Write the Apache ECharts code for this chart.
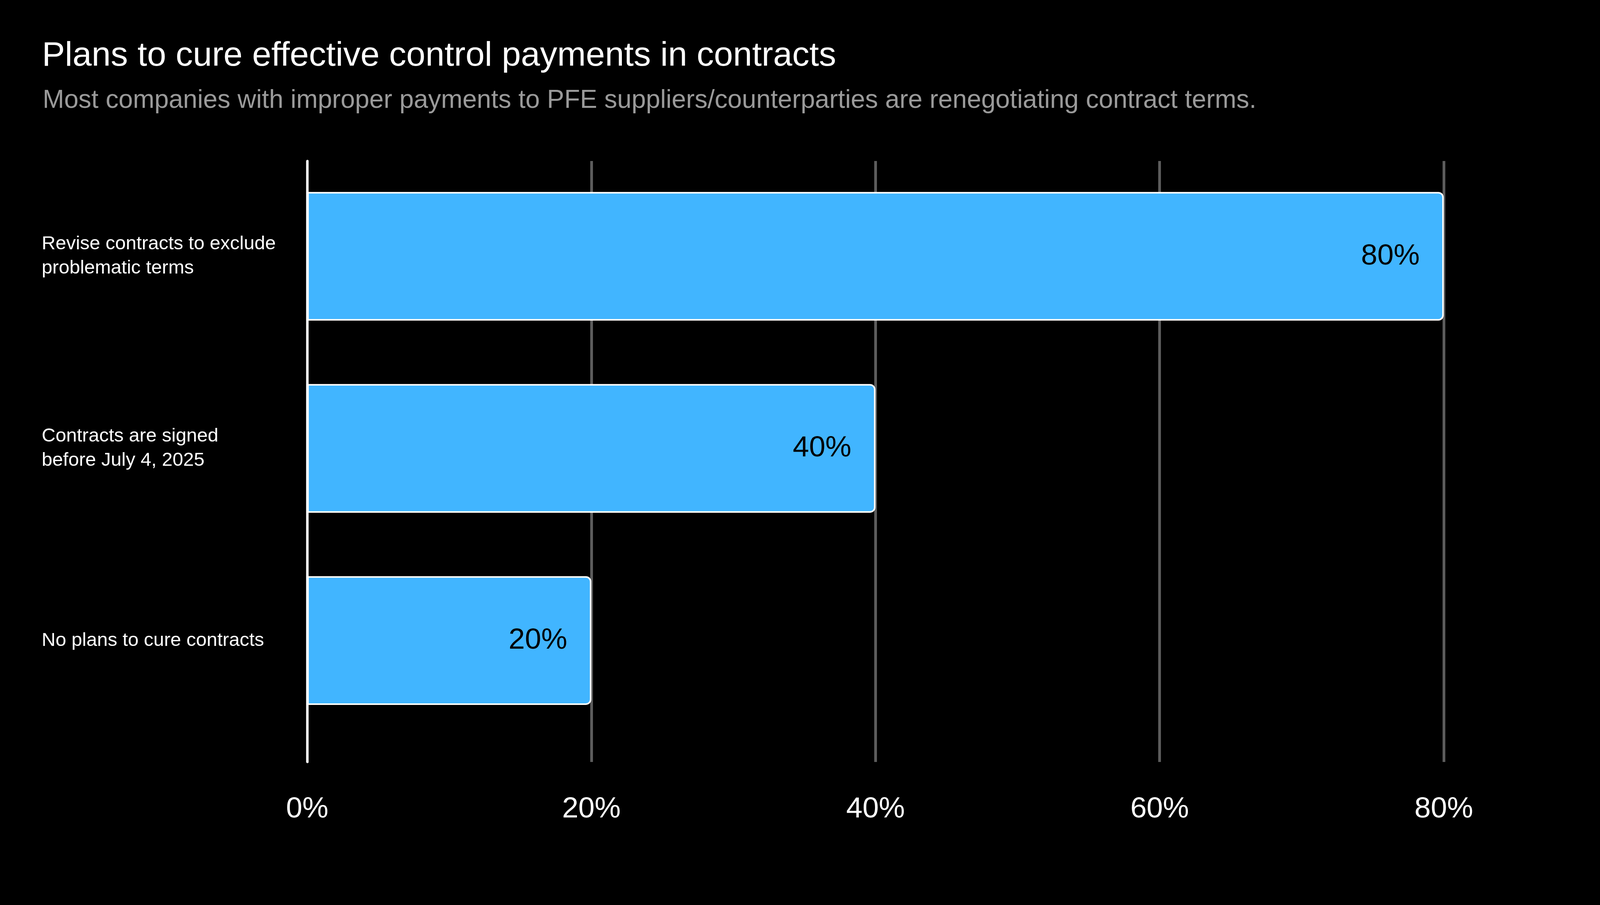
<!DOCTYPE html>
<html>
<head>
<meta charset="utf-8">
<script src="https://cdn.jsdelivr.net/npm/echarts@6/dist/echarts.min.js"></script>
<style>
	html, body {margin: 0; padding: 0; background: #000; overflow: hidden;}
	#chart {width: 100vw; height: 100vh;}
</style>
</head>
<body>
<div id="chart"></div>
<script>
const categories = [
	'Revise contracts to exclude\nproblematic terms',
	'Contracts are signed\nbefore July 4, 2025',
	'No plans to cure contracts',
];
const shares = [80, 40, 20];
const tickValues = [0, 20, 40, 60, 80];

const font = 'Liberation Sans';
const node = document.getElementById('chart');
const chart = echarts.init(node);
// layout was measured on a 4640px wide picture, keep the same proportions
const sx = node.clientWidth / 4640;

chart.setOption({
	backgroundColor: '#000',
	animation: false,
	textStyle: {fontFamily: font},
	title: [
		{
			text: 'Plans to cure effective control payments in contracts',
			left: 116 * sx,
			top: 95,
			textStyle: {color: '#fff', fontSize: 88, fontWeight: 'normal', fontFamily: font},
		},
		{
			text: 'Most companies with improper payments to PFE suppliers/counterparties are renegotiating contract terms.',
			left: 118 * sx,
			top: 220,
			textStyle: {color: '#9a9a9a', fontSize: 66, fontWeight: 'normal', fontFamily: font},
		},
	],
	grid: [
		// grid lines and tick labels
		{left: 891 * sx, right: 453 * sx, top: 412, bottom: 366},
		// bars
		{left: 891 * sx, right: 453 * sx, top: 410, height: 1475},
	],
	xAxis: [
		{
			gridIndex: 0,
			type: 'value',
			min: tickValues[0],
			max: tickValues[tickValues.length - 1],
			interval: 20,
			axisLine: {show: false},
			axisTick: {show: false},
			axisLabel: {
				color: '#fff',
				fontSize: 75,
				margin: 84,
				formatter: v => v + '%',
			},
			splitLine: {show: true, lineStyle: {color: '#5c5c5c', width: 7}},
		},
		{
			gridIndex: 1,
			type: 'value',
			min: tickValues[0],
			max: tickValues[tickValues.length - 1],
			show: false,
		},
	],
	yAxis: [
		{
			gridIndex: 0,
			type: 'value',
			min: 0,
			max: 1,
			axisLine: {show: true, lineStyle: {color: '#fff', width: 6}},
			axisTick: {show: false},
			axisLabel: {show: false},
			splitLine: {show: false},
		},
		{
			gridIndex: 1,
			type: 'category',
			inverse: true,
			data: categories,
			axisLine: {show: false},
			axisTick: {show: false},
			axisLabel: {
				color: '#fff',
				fontSize: 49,
				lineHeight: 62,
				align: 'left',
				margin: 770 * sx,
			},
		},
	],
	series: [
		{
			type: 'bar',
			xAxisIndex: 1,
			yAxisIndex: 1,
			data: shares,
			barCategoryGap: '33%',
			itemStyle: {
				color: '#41b5ff',
				borderColor: '#fff',
				borderWidth: 4,
				borderRadius: [0, 12, 12, 0],
			},
			label: {
				show: true,
				position: 'insideRight',
				distance: 70 * sx,
				color: '#000',
				fontSize: 75,
				formatter: '{c}%',
			},
		},
	],
});
</script>
</body>
</html>
